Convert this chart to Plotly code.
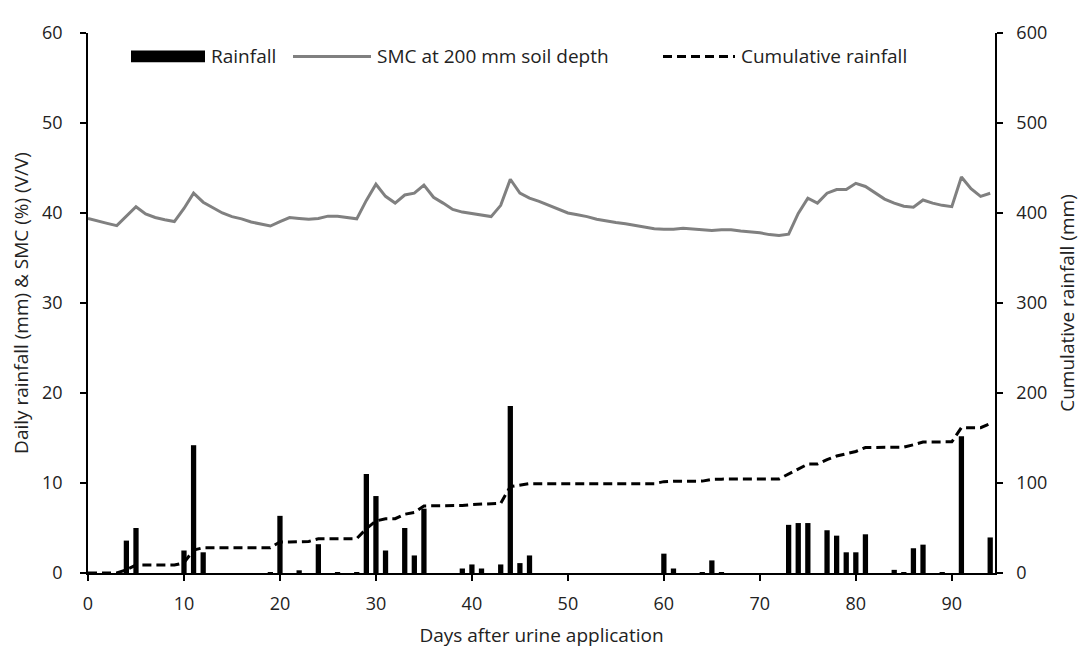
import plotly.graph_objects as go

# Daily rainfall (mm), non-zero days only
rain_days = [4, 5, 10, 11, 12, 19, 20, 22, 24, 26, 28, 29, 30, 31, 33, 34, 35, 39, 40, 41, 43, 44, 45, 46,
             60, 61, 64, 65, 66, 73, 74, 75, 77, 78, 79, 80, 81, 84, 85, 86, 87, 89, 91, 94]
rain_mm = [3.6, 5.0, 2.5, 14.2, 2.3, 0.1, 6.35, 0.3, 3.2, 0.1, 0.1, 11.0, 8.55, 2.5, 5.0, 1.95, 7.15, 0.5, 0.95, 0.5, 0.95, 18.55, 1.1, 1.95,
           2.15, 0.5, 0.1, 1.4, 0.1, 5.35, 5.55, 5.55, 4.75, 4.15, 2.3, 2.3, 4.3, 0.35, 0.1, 2.75, 3.15, 0.1, 15.2, 3.95]

# Soil moisture content at 200 mm depth (%), days 0..94
smc_days = list(range(95))
smc = [39.4, 39.1, 38.85, 38.6, 39.6, 40.7, 39.9, 39.5, 39.25, 39.05,
       40.5, 42.2, 41.2, 40.6, 40.0, 39.6, 39.35, 39.0, 38.75, 38.55,
       39.05, 39.5, 39.4, 39.3, 39.4, 39.65, 39.65, 39.5, 39.35, 41.4,
       43.2, 41.85, 41.1, 42.0, 42.2, 43.1, 41.75, 41.1, 40.4, 40.1,
       39.95, 39.75, 39.6, 40.85, 43.75, 42.2, 41.65, 41.3, 40.85, 40.45,
       40.0, 39.8, 39.6, 39.3, 39.1, 38.95, 38.8, 38.6, 38.4, 38.25,
       38.2, 38.2, 38.3, 38.2, 38.15, 38.05, 38.15, 38.15, 38.0, 37.9,
       37.8, 37.6, 37.5, 37.65, 39.95, 41.65, 41.1, 42.2, 42.6, 42.6,
       43.3, 42.95, 42.2, 41.55, 41.1, 40.75, 40.65, 41.45, 41.1, 40.85,
       40.7, 44.0, 42.7, 41.85, 42.2]

# Cumulative rainfall (mm), read at break points
cum_days = [0, 3, 4, 5, 9, 10, 11, 12, 19, 20, 21, 22, 23, 24, 28, 29, 30, 31, 32, 33, 34, 35,
            38, 39, 40, 41, 42, 43, 44, 45, 46, 59, 60, 61, 63, 64, 65, 66, 72, 73, 74, 75, 76,
            77, 78, 79, 80, 81, 84, 85, 86, 87, 89, 90, 91, 93, 94]
cum_mm = [0, 0, 3.6, 8.8, 8.8, 11.3, 25.5, 28.0, 28.1, 34.5, 34.5, 35.0, 35.0, 38.0, 38.2, 49.2, 57.8, 60.3, 60.3, 65.3, 67.3, 74.5,
          74.5, 75.0, 76.0, 76.5, 76.5, 77.5, 96.0, 97.3, 99.3, 99.3, 101.5, 102.0, 102.0, 102.1, 104.0, 104.3, 104.5, 110.0, 115.5, 121.0, 121.0,
          126.0, 130.0, 132.5, 135.0, 139.4, 139.6, 139.8, 142.5, 145.6, 145.7, 145.7, 161.5, 161.5, 166.0]

series_names = ["Rainfall", "SMC at 200 mm soil depth", "Cumulative rainfall"]

FONT = "Open Sans"
TXT = "#222222"
W, H = 1089, 653
ML, MR, MT, MB = 80, 102, 12, 88
PW, PH = W - ML - MR, H - MT - MB
TICK_SIZE = 18
TITLE_SIZE = 19
LEG_SIZE = 19


def px(xp):
    return (xp - ML) / PW


def py(yp):
    return 1 - (yp - MT) / PH


fig = go.Figure()
fig.add_trace(go.Bar(x=rain_days, y=rain_mm, width=0.55, name=series_names[0],
                     marker=dict(color="black", line=dict(width=0)), yaxis="y"))
fig.add_trace(go.Scatter(x=smc_days, y=smc, mode="lines", name=series_names[1],
                         line=dict(color="#808080", width=3), yaxis="y"))
fig.add_trace(go.Scatter(x=cum_days, y=cum_mm, mode="lines", name=series_names[2],
                         line=dict(color="black", width=3, dash="9px,5px"), yaxis="y2"))

axis_common = dict(showgrid=False, zeroline=False, showline=True, linecolor="black", linewidth=1.5,
                   ticks="outside", ticklen=6, tickcolor="black", tickwidth=1.5,
                   ticklabeloverflow="allow",
                   tickfont=dict(family=FONT, size=TICK_SIZE, color=TXT))

# custom legend (wide symbols as in the original)
ly = 36
shapes = [
    dict(type="rect", xref="paper", yref="paper", x0=px(123), x1=px(197), y0=py(ly + 6), y1=py(ly - 6),
         fillcolor="black", line=dict(width=0)),
    dict(type="line", xref="paper", yref="paper", x0=px(285), x1=px(363), y0=py(ly), y1=py(ly),
         line=dict(color="#808080", width=3)),
    dict(type="line", xref="paper", yref="paper", x0=px(655), x1=px(727), y0=py(ly), y1=py(ly),
         line=dict(color="black", width=3, dash="9px,5px")),
]
annotations = [
    dict(text=series_names[0], xref="paper", yref="paper", x=px(201), y=py(ly), xanchor="left", yanchor="middle",
         showarrow=False, font=dict(family=FONT, size=LEG_SIZE, color=TXT)),
    dict(text=series_names[1], xref="paper", yref="paper", x=px(367), y=py(ly), xanchor="left", yanchor="middle",
         showarrow=False, font=dict(family=FONT, size=LEG_SIZE, color=TXT)),
    dict(text=series_names[2], xref="paper", yref="paper", x=px(731), y=py(ly), xanchor="left", yanchor="middle",
         showarrow=False, font=dict(family=FONT, size=LEG_SIZE, color=TXT)),
]

fig.update_layout(
    width=W, height=H,
    margin=dict(l=ML, r=MR, t=MT, b=MB),
    paper_bgcolor="white", plot_bgcolor="white",
    font=dict(family=FONT, size=16, color=TXT),
    showlegend=False,
    shapes=shapes,
    annotations=annotations,
    xaxis=dict(range=[0, 94.5], tickmode="linear", tick0=0, dtick=10, ticklabelstandoff=8,
               title=dict(text="Days after urine application", font=dict(family=FONT, size=TITLE_SIZE, color=TXT), standoff=14),
               **axis_common),
    yaxis=dict(range=[0, 60], tickmode="linear", tick0=0, dtick=10, ticklabelstandoff=14,
               title=dict(text="Daily rainfall (mm) & SMC (%) (V/V)", font=dict(family=FONT, size=TITLE_SIZE, color=TXT), standoff=8),
               **axis_common),
    yaxis2=dict(range=[0, 600], tickmode="linear", tick0=0, dtick=100, overlaying="y", side="right",
                ticklabelstandoff=10,
                title=dict(text="Cumulative rainfall (mm)", font=dict(family=FONT, size=TITLE_SIZE, color=TXT), standoff=14),
                **axis_common),
)

fig.write_html("out.html")
